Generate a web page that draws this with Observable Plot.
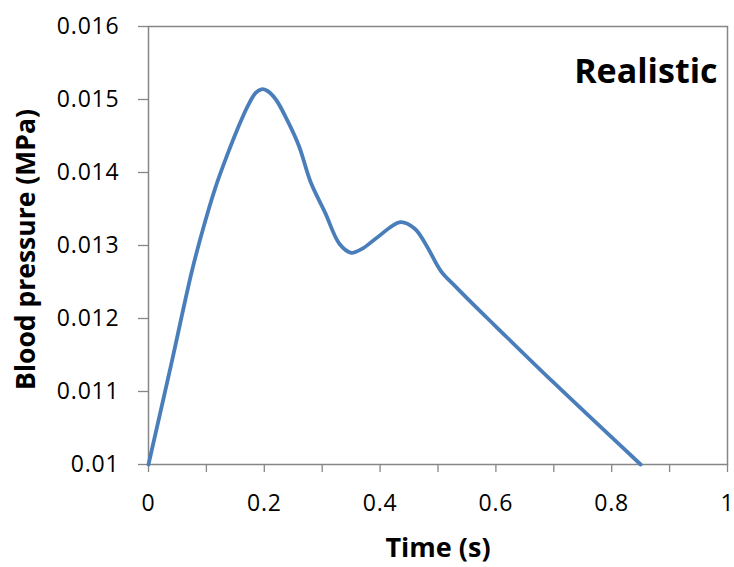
<!DOCTYPE html>
<html>
<head>
<meta charset="utf-8">
<script src="https://cdn.jsdelivr.net/npm/d3@7"></script>
<script src="https://cdn.jsdelivr.net/npm/@observablehq/plot@0.6"></script>
<style>
  html, body { margin: 0; padding: 0; background: #fff; }
  #chart svg text { font-family: "Open Sans", sans-serif; }
  #chart g[aria-label="y-axis tick label"] text,
  #chart g[aria-label="x-axis tick label"] text { letter-spacing: 0.8px; }
</style>
</head>
<body>
<div id="chart"></div>
<script>
// Time (s)
const time = [0, 0.04, 0.075, 0.095, 0.115, 0.135, 0.155, 0.172, 0.185, 0.195, 0.205, 0.22, 0.24, 0.26, 0.28, 0.305, 0.33, 0.35, 0.37, 0.395, 0.435, 0.46, 0.48, 0.505, 0.53, 0.56, 0.60, 0.70, 0.85];
// Blood pressure (MPa)
const pressure = [0.0100, 0.01140, 0.01265, 0.01325, 0.01378, 0.01422, 0.01462, 0.01492, 0.01509, 0.01514, 0.01512, 0.01500, 0.01471, 0.01436, 0.01387, 0.01345, 0.01302, 0.01290, 0.01296, 0.01311, 0.01332, 0.01323, 0.01300, 0.01265, 0.01244, 0.01220, 0.01189, 0.01112, 0.01000];

const xMinorTicks = [0, 0.1, 0.2, 0.3, 0.4, 0.5, 0.6, 0.7, 0.8, 0.9, 1];
const xLabelTicks = [0, 0.2, 0.4, 0.6, 0.8, 1];
const yTicks = [0.010, 0.011, 0.012, 0.013, 0.014, 0.015, 0.016];
const xLabel = "Time (s)";
const yLabel = "Blood pressure (MPa)";
const titleText = "Realistic";

const data = time.map((t, i) => ({t, p: pressure[i]}));
const gray = "#868686";
const fmt = d => String(+d.toFixed(3));

const chart = Plot.plot({
  width: 734,
  height: 567,
  marginLeft: 148,
  marginRight: 7,
  marginTop: 26,
  marginBottom: 103,
  style: {fontFamily: "Open Sans", background: "#fff", color: "#000"},
  x: {domain: [0, 1], axis: null},
  y: {domain: [0.01, 0.016], axis: null},
  marks: [
    Plot.axisX({ticks: xMinorTicks, tickSize: 8, tickFormat: () => "", stroke: gray, strokeWidth: 1.3, label: null}),
    Plot.axisX({ticks: xLabelTicks, tickSize: 0, tickPadding: 30, tickFormat: fmt, fontSize: 23, fill: "#000", label: null}),
    Plot.axisY({ticks: yTicks, tickSize: 10, tickPadding: 19, tickFormat: fmt, fontSize: 23, stroke: gray, strokeWidth: 1.3, fill: "#000", label: null}),
    Plot.frame({stroke: gray, strokeWidth: 1.5}),
    Plot.line(data, {x: "t", y: "p", stroke: "#4a7ebb", strokeWidth: 3.8, curve: "catmull-rom"}),
    Plot.text([titleText], {frameAnchor: "top-right", dx: -10, dy: 32, lineAnchor: "top", textAnchor: "end", fontSize: 34, fontWeight: "bold", fill: "#000"}),
    Plot.text([xLabel], {frameAnchor: "bottom", dy: 84, lineAnchor: "middle", fontSize: 27, fontWeight: "bold", fill: "#000"}),
    Plot.text([yLabel], {frameAnchor: "left", dx: -122, dy: 4, rotate: -90, textAnchor: "middle", lineAnchor: "middle", fontSize: 26.5, fontWeight: "bold", fill: "#000"})
  ]
});
document.getElementById("chart").appendChild(chart);
</script>
</body>
</html>
